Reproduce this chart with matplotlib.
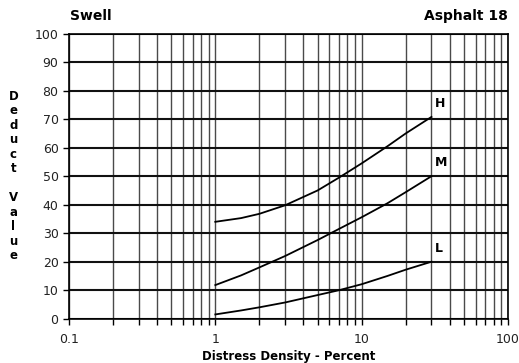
import matplotlib
matplotlib.use("Agg")
import matplotlib.pyplot as plt
from matplotlib.ticker import LogLocator, FixedLocator, NullFormatter, FixedFormatter

# Data
density = [1, 1.5, 2, 3, 5, 7, 10, 15, 20, 30]
deduct_H = [34.0, 35.3, 36.8, 39.8, 45.0, 49.5, 54.5, 60.5, 65.0, 70.8]
deduct_M = [11.8, 15.2, 18.0, 22.0, 27.6, 31.5, 35.6, 40.5, 44.4, 50.0]
deduct_L = [1.5, 2.9, 4.0, 5.7, 8.3, 10.0, 12.1, 15.0, 17.2, 20.0]
series = [("H", deduct_H), ("M", deduct_M), ("L", deduct_L)]

x_ticks = [0.1, 1, 10, 100]
x_tick_labels = ["0.1", "1", "10", "100"]
y_ticks = list(range(0, 101, 10))

fig = plt.figure(figsize=(5.19, 3.63), dpi=100)
ax = fig.add_axes([0.1329, 0.1220, 0.8459, 0.7852])

ax.set_xscale("log")
ax.set_xlim(0.1, 100)
ax.set_ylim(0, 100)

ax.xaxis.set_major_locator(FixedLocator(x_ticks))
ax.xaxis.set_major_formatter(FixedFormatter(x_tick_labels))
ax.xaxis.set_minor_locator(LogLocator(base=10, subs=range(2, 10)))
ax.xaxis.set_minor_formatter(NullFormatter())
ax.yaxis.set_major_locator(FixedLocator(y_ticks))

ax.grid(True, which="both", axis="x", color="#4a4a4a", lw=1.0)
ax.grid(True, which="major", axis="y", color="#111111", lw=1.5)
ax.set_axisbelow(True)

for name, vals in series:
    ax.plot(density, vals, color="black", lw=1.3)
    ax.annotate(name, xy=(density[-1], vals[-1]), xytext=(2.5, 5),
                textcoords="offset points", ha="left", va="bottom",
                fontsize=9, fontweight="bold")

for s in ax.spines.values():
    s.set_color("black")
    s.set_linewidth(1.2)

ax.tick_params(axis="both", which="both", direction="out", length=4, width=1,
               color="black", labelsize=9, labelcolor="#222222")
ax.tick_params(axis="x", pad=6)

ax.set_xlabel("Distress Density - Percent", fontsize=8.5, fontweight="bold", labelpad=3)

fig.text(0.1349, 0.955, "Swell", fontsize=10, fontweight="bold", ha="left", va="center")
fig.text(0.9788, 0.955, "Asphalt 18", fontsize=10, fontweight="bold", ha="right", va="center")

ylabel = "\n".join(list("Deduct")) + "\n\n" + "\n".join(list("Value"))
fig.text(0.026, 0.515, ylabel, fontsize=8.5, fontweight="bold", ha="center", va="center",
         linespacing=1.15)

fig.savefig("out.png", dpi=100)
